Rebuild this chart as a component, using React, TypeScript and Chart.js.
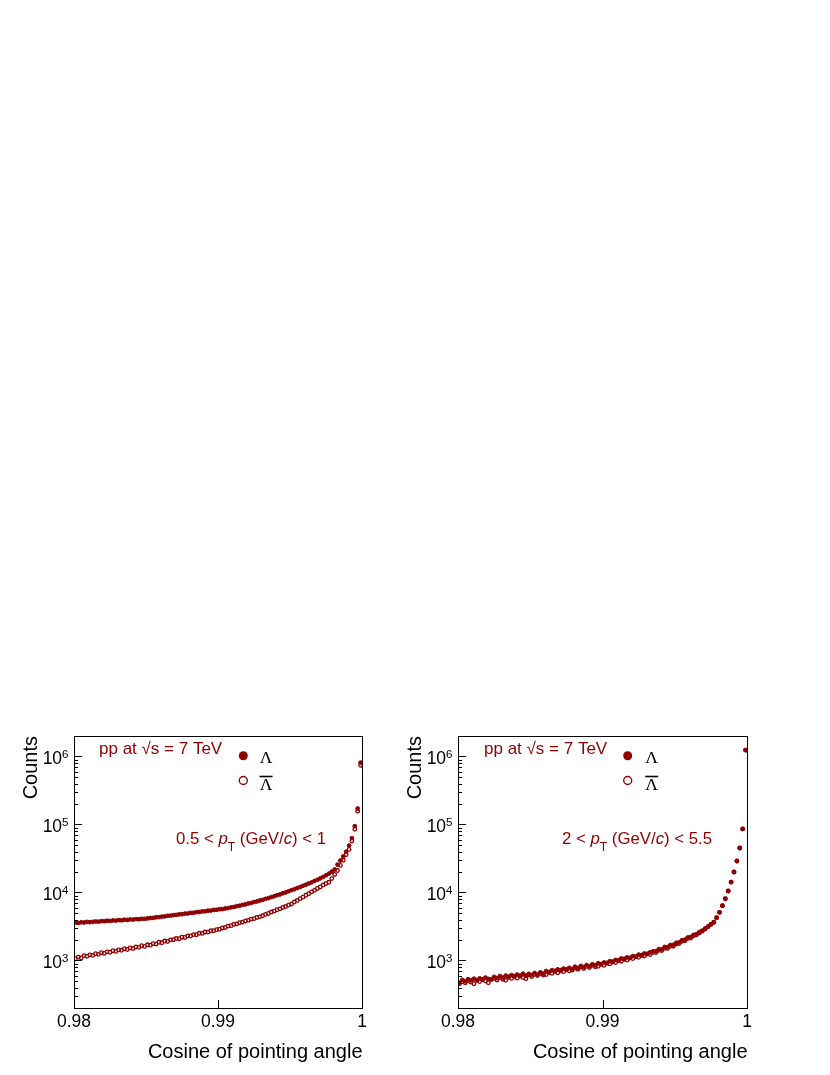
import React, { useEffect, useRef } from "react";
import { Chart, registerables } from "chart.js";

Chart.register(...registerables);

// Binning of the histograms (cosine of pointing angle)
const BIN_LOW = 0.98;
const BIN_WIDTH = 0.0002;
const N_BINS = 100;
const binCenters: number[] = Array.from({ length: N_BINS }, (_, i) =>
  Number((BIN_LOW + BIN_WIDTH * (i + 0.5)).toFixed(5))
);

const xTickValues = [0.98, 0.99, 1];
const xTickLabels = ["0.98", "0.99", "1"];
const yDecadeExponents = [3, 4, 5, 6];
const yMin = 200;
const yMax = 2e6;

// Panel 1: 0.5 < pT < 1 GeV/c
const lowPtLambda = [
  3590, 3560, 3640, 3620, 3690, 3660, 3700, 3750, 3720, 3790, 3780, 3840, 3810, 3880, 3860, 3920, 3900, 3970, 3950, 4010, 3990, 4060, 4040, 4100, 4090,
  4150, 4210, 4230, 4320, 4340, 4420, 4450, 4540, 4560, 4650, 4680, 4770, 4790, 4890, 4910, 5010, 5030, 5140, 5160, 5270, 5290, 5400, 5420, 5540, 5560, 5670, 5700,
  5810, 5890, 6040, 6120, 6290, 6380, 6570, 6680, 6880, 7000, 7230, 7380, 7620, 7790, 8060, 8260,
  8560, 8780, 9110, 9360, 9730, 10020, 10420,
  10800, 11160, 11620, 12020, 12540, 13000, 13570, 14100, 14740, 15350,
  16100, 16900, 17900, 18970, 20250,
  21800, 25700, 29500, 33900, 39800, 49000, 63100, 94400, 171800, 812800,
];
const lowPtAntiLambda = [
  1060, 1120, 1090, 1180, 1150, 1210, 1190, 1260, 1230, 1300, 1270, 1340, 1320, 1390, 1360, 1430, 1410, 1490, 1450, 1530, 1500, 1580, 1560, 1650, 1610,
  1700, 1680, 1770, 1750, 1850, 1820, 1930, 1900, 2010, 2020, 2100, 2090, 2200, 2180, 2300, 2290, 2400, 2390, 2510, 2500, 2620, 2610, 2730, 2740, 2840,
  2880, 3010, 3060, 3200, 3250, 3390, 3450, 3600, 3660, 3810, 3890, 4050, 4120, 4290, 4380,
  4540, 4760, 4910, 5150, 5310, 5570, 5740, 6020, 6210, 6510,
  6780, 7230, 7600, 8110, 8540, 9100, 9580, 10200, 10750, 11450, 12050, 12850, 13550,
  14100, 16000, 18400, 21000, 25000, 29700, 36000, 43000, 57000, 85000, 157000, 740000,
];

// Panel 2: 2 < pT < 5.5 GeV/c
const highPtLambda = [
  470, 520, 495, 530, 510, 540, 515, 545, 525, 560, 535, 530, 575, 550, 590, 560, 600, 570, 610, 580, 620, 590, 640, 600, 635, 610,
  655, 620, 670, 640, 700, 665, 720, 690, 740, 705, 760, 730, 780, 750, 810, 775, 830, 800, 855, 825, 880, 850, 910, 880, 935,
  910, 975, 950, 1020, 995, 1070, 1040, 1110, 1090, 1160, 1140, 1220, 1190, 1270, 1245, 1320,
  1360, 1370, 1470, 1460, 1580, 1570, 1690, 1700,
  1820, 1850, 1990, 2030, 2180, 2220, 2380, 2440, 2620, 2740,
  2950, 3150, 3400, 3650, 4250, 5100, 6400, 8100, 10500, 14200, 20000, 29000, 45000, 86000, 1240000,
];
const highPtAntiLambda = [
  455, 490, 470, 505, 480, 455, 510, 490, 530, 500, 470, 525, 545, 515, 560, 530, 510, 570, 545, 585, 550, 595, 560, 540, 610, 580,
  625, 600, 645, 610, 620, 675, 645, 700, 660, 720, 685, 740, 705, 720, 775, 740, 800, 760, 820, 790, 850, 810, 820, 885, 850,
  920, 890, 960, 930, 1000, 975, 1050, 1015, 1090, 1065, 1140, 1115, 1195, 1165, 1250, 1220,
  1315, 1305, 1410, 1400, 1515, 1505, 1625, 1620,
  1750, 1780, 1920, 1950, 2100, 2140, 2300, 2380, 2540, 2700,
  2900, 3120, 3390, 3640, 4250, 5100, 6400, 8100, 10500, 14200, 20000, 29000, 45000, 86000, 1240000,
];

const RED = "#900000";
const SANS = "'Liberation Sans', Arial, Helvetica, sans-serif";
const SERIF = "'Liberation Serif', 'Times New Roman', serif";

type Part = { t: string; style?: "i" | "sub" };

type PanelSpec = {
  left: number;
  width: number;
  padLeft: number;
  padRight: number;
  lambda: number[];
  anti: number[];
  countsX: number;
  ppX: number;
  legendMarkerX: number;
  legendTextX: number;
  ptX: number;
  ptParts: Part[];
};

const panels: PanelSpec[] = [
  {
    left: 0,
    width: 400,
    padLeft: 74,
    padRight: 38,
    lambda: lowPtLambda,
    anti: lowPtAntiLambda,
    countsX: 36.5,
    ppX: 99,
    legendMarkerX: 243.3,
    legendTextX: 266,
    ptX: 176,
    ptParts: [
      { t: "0.5 < " },
      { t: "p", style: "i" },
      { t: "T", style: "sub" },
      { t: " (GeV/" },
      { t: "c", style: "i" },
      { t: ") < 1" },
    ],
  },
  {
    left: 400,
    width: 430,
    padLeft: 58,
    padRight: 83,
    lambda: highPtLambda,
    anti: highPtAntiLambda,
    countsX: 20.7,
    ppX: 84,
    legendMarkerX: 227.7,
    legendTextX: 251.7,
    ptX: 162,
    ptParts: [
      { t: "2 < " },
      { t: "p", style: "i" },
      { t: "T", style: "sub" },
      { t: " (GeV/" },
      { t: "c", style: "i" },
      { t: ") < 5.5" },
    ],
  },
];

function drawRich(ctx: CanvasRenderingContext2D, x: number, baseline: number, parts: Part[], size: number) {
  let cx = x;
  for (const p of parts) {
    let font = `${size}px ${SANS}`;
    let by = baseline;
    if (p.style === "i") font = `italic ${size}px ${SANS}`;
    if (p.style === "sub") {
      font = `${size * 0.72}px ${SANS}`;
      by = baseline + size * 0.42;
    }
    ctx.font = font;
    ctx.textAlign = "left";
    ctx.textBaseline = "alphabetic";
    ctx.fillText(p.t, cx, by);
    cx += ctx.measureText(p.t).width;
  }
}

function makeDecorPlugin(spec: PanelSpec) {
  return {
    id: "rootDecor",
    afterDraw(chart: any) {
      const { ctx, chartArea: a, scales } = chart;
      const xs = scales.x;
      const ys = scales.y;
      ctx.save();
      // frame
      ctx.strokeStyle = "#000";
      ctx.lineWidth = 1;
      const L = Math.round(a.left);
      const T = Math.round(a.top);
      const R = Math.round(a.right);
      const B = Math.round(a.bottom);
      ctx.strokeRect(L + 0.5, T + 0.5, R - L, B - T);

      // y ticks (inward)
      ctx.beginPath();
      for (let d = 2; d <= 6; d++) {
        for (let m = 1; m <= 9; m++) {
          const v = m * Math.pow(10, d);
          if (v <= yMin || v >= yMax) continue;
          const y = Math.round(ys.getPixelForValue(v)) + 0.5;
          const len = m === 1 ? 8 : 4;
          ctx.moveTo(L, y);
          ctx.lineTo(L + len, y);
        }
      }
      // x ticks (inward)
      for (const v of xTickValues) {
        const x = Math.round(xs.getPixelForValue(v)) + 0.5;
        if (x <= L + 1 || x >= R - 1) continue;
        ctx.moveTo(x, B);
        ctx.lineTo(x, B - 8);
      }
      ctx.stroke();

      // x tick labels
      ctx.fillStyle = "#000";
      ctx.font = `17.5px ${SANS}`;
      ctx.textAlign = "center";
      ctx.textBaseline = "alphabetic";
      xTickValues.forEach((v, i) => {
        const x = xs.getPixelForValue(v);
        ctx.fillText(xTickLabels[i], x, B + 18.7);
      });

      // y tick labels 10^n
      for (const e of yDecadeExponents) {
        const y = ys.getPixelForValue(Math.pow(10, e));
        const sup = String(e);
        ctx.font = `11.5px ${SANS}`;
        const w2 = ctx.measureText(sup).width;
        ctx.font = `17.5px ${SANS}`;
        const w1 = ctx.measureText("10").width;
        const right = L - 5.5;
        ctx.textAlign = "left";
        ctx.fillText("10", right - w2 - w1, y + 8);
        ctx.font = `11.5px ${SANS}`;
        ctx.fillText(sup, right - w2, y + 1.5);
      }

      // axis titles
      ctx.font = `20px ${SANS}`;
      ctx.textAlign = "right";
      ctx.fillText("Cosine of pointing angle", R + 0.5, B + 50);
      ctx.save();
      ctx.translate(spec.countsX, T);
      ctx.rotate(-Math.PI / 2);
      ctx.textAlign = "right";
      ctx.textBaseline = "alphabetic";
      ctx.fillText("Counts", 0, 0);
      ctx.restore();

      // annotations
      ctx.fillStyle = RED;
      ctx.font = `17px ${SANS}`;
      ctx.textAlign = "left";
      ctx.fillText("pp at \u221As = 7 TeV", spec.ppX, T + 17.5);
      drawRich(ctx, spec.ptX, T + 108, spec.ptParts, 16.8);

      // legend
      ctx.fillStyle = RED;
      ctx.strokeStyle = RED;
      ctx.beginPath();
      ctx.arc(spec.legendMarkerX, T + 19.7, 4.5, 0, Math.PI * 2);
      ctx.fill();
      ctx.beginPath();
      ctx.lineWidth = 1.4;
      ctx.arc(spec.legendMarkerX, T + 44.5, 4, 0, Math.PI * 2);
      ctx.stroke();
      ctx.fillStyle = "#000";
      ctx.strokeStyle = "#000";
      ctx.font = `17.5px ${SERIF}`;
      ctx.textAlign = "center";
      ctx.fillText("\u039B", spec.legendTextX, T + 27);
      ctx.fillText("\u039B", spec.legendTextX, T + 54);
      ctx.lineWidth = 1.6;
      ctx.beginPath();
      ctx.moveTo(spec.legendTextX - 6.5, T + 40.5);
      ctx.lineTo(spec.legendTextX + 6.5, T + 40.5);
      ctx.stroke();
      ctx.restore();
    },
  };
}

function Panel({ spec }: { spec: PanelSpec }) {
  const ref = useRef<HTMLCanvasElement>(null);
  useEffect(() => {
    const canvas = ref.current;
    if (!canvas) return;
    const chart = new Chart(canvas, {
      type: "scatter",
      data: {
        datasets: [
          {
            label: "\u039B",
            data: binCenters.map((x, i) => ({ x, y: spec.lambda[i] })),
            pointStyle: "circle",
            pointRadius: 1.9,
            pointBorderWidth: 1,
            backgroundColor: RED,
            borderColor: RED,
            showLine: false,
          },
          {
            label: "anti-\u039B",
            data: binCenters.map((x, i) => ({ x, y: spec.anti[i] })),
            pointStyle: "circle",
            pointRadius: 1.8,
            pointBorderWidth: 1.3,
            backgroundColor: "rgba(255,255,255,0)",
            borderColor: RED,
            showLine: false,
          },
        ],
      },
      options: {
        responsive: false,
        animation: false,
        events: [],
        layout: { padding: { left: spec.padLeft, right: spec.padRight, top: 36, bottom: 67 } },
        plugins: { legend: { display: false }, tooltip: { enabled: false } },
        scales: {
          x: { type: "linear", min: BIN_LOW, max: 1, display: false },
          y: { type: "logarithmic", min: yMin, max: yMax, display: false },
        },
      } as any,
      plugins: [makeDecorPlugin(spec)],
    });
    return () => chart.destroy();
  }, [spec]);
  return (
    <canvas
      ref={ref}
      width={spec.width}
      height={375}
      style={{ position: "absolute", left: spec.left, top: 700, width: spec.width, height: 375 }}
    />
  );
}

export default function App() {
  return (
    <div
      style={{
        position: "absolute",
        left: 0,
        top: 0,
        width: 830,
        height: 1075,
        overflow: "hidden",
        background: "#fff",
      }}
    >
      {panels.map((p, i) => (
        <Panel key={i} spec={p} />
      ))}
    </div>
  );
}
